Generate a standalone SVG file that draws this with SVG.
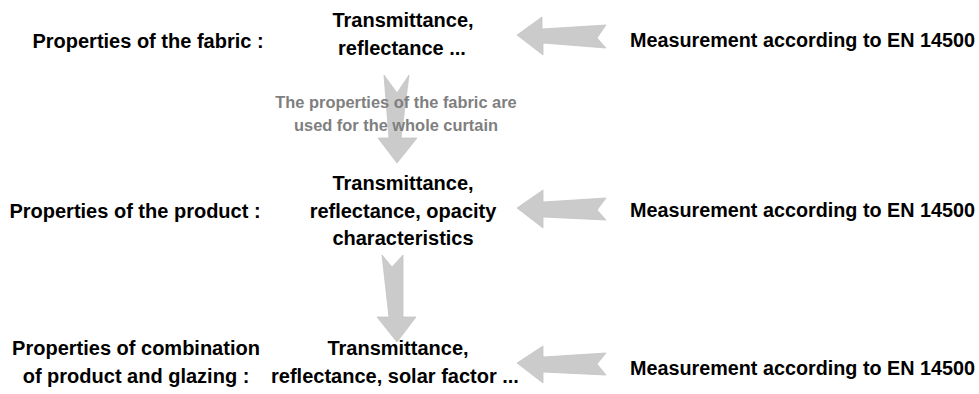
<svg xmlns="http://www.w3.org/2000/svg" width="979" height="394" viewBox="0 0 979 394">
<style>
.t{font-family:"Liberation Sans",Arial,sans-serif;font-weight:bold;font-size:20px;fill:#000}
.m{text-anchor:middle}
.ms{font-size:19.6px}
.g{font-family:"Liberation Sans",Arial,sans-serif;font-weight:bold;font-size:16.4px;fill:#7f7f7f;text-anchor:middle}
.arrow{fill:#cbcbcb;stroke:#c4c4c4;stroke-width:0.8}
</style>
<rect width="979" height="394" fill="#fff"/>
<g id="connectors">
<polygon class="arrow" points="517,35 542,17 542,29 606,25 597,38 606,48 543,43 543,55"/>
<polygon class="arrow" points="517,208 543,190 543,202 606,198 597,210 606,220 543,217 543,228"/>
<polygon class="arrow" points="517,363 543,346 543,357 606,353 597,364 606,375 543,372 543,383"/>
<polygon class="arrow" points="384,75 397,93 409,75 401,138 417,138 397,163 378,138 389,138"/>
<polygon class="arrow" points="382,255 392,267 403,255 403,317 416,317 397,342 377,317 389,317"/>
</g>
<g id="note">
<text class="g" x="396" y="108">The properties of the fabric are</text>
<text class="g" x="396" y="131">used for the whole curtain</text>
</g>
<g id="label-fabric"><text class="t m" x="148" y="48">Properties of the fabric :</text></g>
<g id="fabric"><text class="t m" x="403" y="27">Transmittance,</text><text class="t m" x="402" y="55">reflectance ...</text></g>
<g id="measure-fabric"><text class="t ms" x="630" y="47" textLength="345" lengthAdjust="spacingAndGlyphs">Measurement according to EN 14500</text></g>
<g id="label-product"><text class="t m" x="135" y="218">Properties of the product :</text></g>
<g id="product"><text class="t m" x="403" y="190">Transmittance,</text><text class="t m" x="403" y="218">reflectance, opacity</text><text class="t m" x="403" y="245">characteristics</text></g>
<g id="measure-product"><text class="t ms" x="630" y="217" textLength="345" lengthAdjust="spacingAndGlyphs">Measurement according to EN 14500</text></g>
<g id="label-combination"><text class="t m" x="136" y="355">Properties of combination</text><text class="t m" x="136" y="383">of product and glazing :</text></g>
<g id="combination"><text class="t m" x="398" y="355">Transmittance,</text><text class="t m" x="395" y="383">reflectance, solar factor ...</text></g>
<g id="measure-combination"><text class="t ms" x="630" y="375" textLength="345" lengthAdjust="spacingAndGlyphs">Measurement according to EN 14500</text></g>
</svg>
